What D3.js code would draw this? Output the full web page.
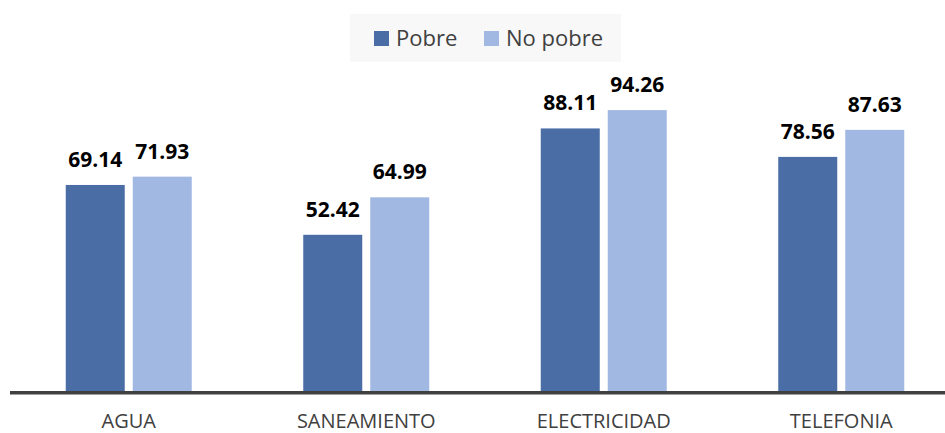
<!DOCTYPE html>
<html><head><meta charset="utf-8">
<script src="https://cdn.jsdelivr.net/npm/d3@7"></script>
<style>body{margin:0;background:#fff}svg{display:block}</style>
</head><body>
<script>
const categories = ["AGUA","SANEAMIENTO","ELECTRICIDAD","TELEFONIA"];
const seriesNames = ["Pobre","No pobre"];
const pobre = [69.14, 52.42, 88.11, 78.56];
const noPobre = [71.93, 64.99, 94.26, 87.63];
const colors = ["#4A6DA6","#A1B8E2"];

const W = 945, H = 433;
const svg = d3.select("body").append("svg").attr("width", W).attr("height", H);

const x0 = d3.scaleBand().domain(categories).range([10, 960]).padding(0);
const x1 = d3.scaleBand().domain(seriesNames).range([0, 126]).paddingInner(0.1194).paddingOuter(0);
const y = d3.scaleLinear().domain([0, 100]).range([391, 93]);

const data = categories.map((c, i) => ({cat: c, vals: [pobre[i], noPobre[i]]}));
const off = (x0.bandwidth() - 126) / 2;

const g = svg.selectAll("g.cat").data(data).join("g").attr("class","cat")
  .attr("transform", d => `translate(${x0(d.cat) + off},0)`);

g.selectAll("rect").data(d => d.vals.map((v, j) => ({s: seriesNames[j], v, j}))).join("rect")
  .attr("x", d => x1(d.s)).attr("width", x1.bandwidth())
  .attr("y", d => y(d.v)).attr("height", d => y(0) - y(d.v))
  .attr("fill", d => colors[d.j]);

g.selectAll("text.val").data(d => d.vals.map((v, j) => ({s: seriesNames[j], v, j}))).join("text")
  .attr("class","val")
  .attr("x", d => x1(d.s) + x1.bandwidth()/2).attr("y", d => y(d.v) - 18)
  .attr("text-anchor","middle")
  .style("font-family","'Open Sans', sans-serif").style("font-weight","bold").style("font-size","21px")
  .attr("fill","#000").text(d => d.v.toFixed(2));

// axis
const xAxis = d3.axisBottom(x0).tickSize(0).tickPadding(0);
const ax = svg.append("g").attr("transform", `translate(0,${y(0)})`).call(xAxis);
ax.select(".domain").attr("stroke","#404040").attr("stroke-width",3.5).attr("d","M10,1.75H945");
ax.selectAll(".tick text")
  .attr("y", 37).attr("dy", null)
  .style("font-family","'Liberation Sans Narrow','Open Sans',sans-serif").style("font-size","20px")
  .attr("fill","#404040");

// legend
const lg = svg.append("g");
lg.append("rect").attr("x",350).attr("y",14).attr("width",271).attr("height",48).attr("fill","#F8F8F8");
const items = [{n:"Pobre", x:374, c:colors[0]}, {n:"No pobre", x:484, c:colors[1]}];
items.forEach(it => {
  lg.append("rect").attr("x", it.x).attr("y", 31).attr("width", 15).attr("height", 15).attr("fill", it.c);
  lg.append("text").attr("x", it.x + 22).attr("y", 46).text(it.n)
    .style("font-family","'Open Sans',sans-serif").style("font-size","22px").attr("fill","#404040");
});
</script>
</body></html>
